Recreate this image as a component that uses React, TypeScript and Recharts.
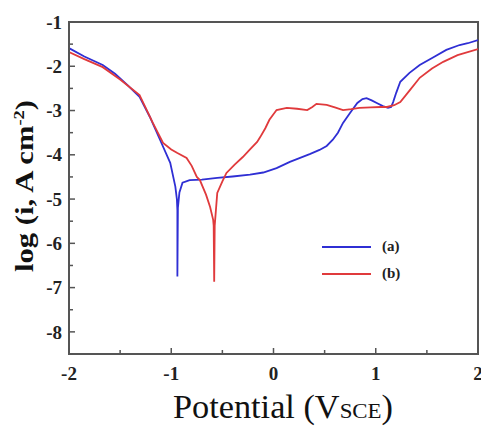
import { LineChart, Line, XAxis, YAxis, ReferenceArea } from "recharts";

// curve (a)
const aX = [
  -2.0, -1.85, -1.67, -1.55, -1.43, -1.31, -1.21, -1.11, -1.01, -0.96, -0.945, -0.94, -0.94, -0.935,
  -0.92, -0.89, -0.82, -0.7, -0.55, -0.4, -0.23, -0.1, 0.03, 0.16, 0.26, 0.36, 0.45, 0.52, 0.58,
  0.63, 0.68, 0.75, 0.82, 0.87, 0.91, 0.96, 1.01, 1.07, 1.12, 1.15, 1.17, 1.2, 1.24, 1.33, 1.43,
  1.56, 1.69, 1.82, 1.9, 2.0,
];
const aY = [
  -1.59, -1.78, -1.97, -2.17, -2.42, -2.69, -3.14, -3.66, -4.18, -4.72, -5.0, -5.25, -6.75, -5.2,
  -4.85, -4.63, -4.57, -4.56, -4.52, -4.49, -4.45, -4.4, -4.3, -4.16, -4.07, -3.98, -3.89, -3.8, -3.66,
  -3.5, -3.28, -3.05, -2.83, -2.74, -2.72, -2.77, -2.83, -2.9, -2.94, -2.92, -2.81, -2.6, -2.35, -2.15, -1.97,
  -1.8, -1.63, -1.52, -1.48, -1.41,
];

// curve (b)
const bX = [
  -2.0, -1.85, -1.67, -1.5, -1.31, -1.18, -1.08, -1.0, -0.94, -0.85, -0.8, -0.75, -0.72, -0.66, -0.62,
  -0.59, -0.585, -0.58, -0.575, -0.55, -0.5, -0.46, -0.38, -0.3, -0.23, -0.16, -0.13, -0.08, -0.04,
  0.03, 0.13, 0.23, 0.33, 0.38, 0.42, 0.52, 0.6, 0.68, 0.76, 0.84, 0.95, 1.05, 1.11, 1.18, 1.24,
  1.33, 1.43, 1.55, 1.66, 1.8, 2.0,
];
const bY = [
  -1.68, -1.84, -2.02, -2.3, -2.65, -3.28, -3.73, -3.88, -3.96, -4.07, -4.25, -4.5, -4.57, -4.9, -5.18,
  -5.47, -5.6, -6.87, -5.6, -4.86, -4.6, -4.41, -4.22, -4.05, -3.88, -3.71, -3.6, -3.4, -3.21,
  -2.99, -2.94, -2.96, -2.99, -2.92, -2.85, -2.87, -2.93, -2.99, -2.97, -2.94, -2.93, -2.92, -2.92, -2.88, -2.81,
  -2.55, -2.26, -2.05, -1.9, -1.75, -1.61,
];

const seriesNames = ["(a)", "(b)"];
const xTicks = [-2, -1.5, -1, -0.5, 0, 0.5, 1, 1.5, 2];
const yTicks = [-8.5, -8, -7.5, -7, -6.5, -6, -5.5, -5, -4.5, -4, -3.5, -3, -2.5, -2, -1.5, -1];

const seriesA = aX.map((x, i) => ({ x, y: aY[i] }));
const seriesB = bX.map((x, i) => ({ x, y: bY[i] }));

const BLUE = "#2f2fd4";
const RED = "#e03a3c";
const AXIS = "#555";
const FONT = "Liberation Serif, DejaVu Serif, serif";
const LEFT = 69;
const BOTTOM = 354;

const XTick = (props: any) => {
  const v = props.payload.value;
  const major = Number.isInteger(v);
  return (
    <g>
      <line x1={props.x} x2={props.x} y1={BOTTOM} y2={BOTTOM - (major ? 6 : 4)} stroke={AXIS} strokeWidth={1.5} />
      {major && (
        <text x={props.x} y={380} textAnchor="middle" style={{ fontFamily: FONT, fontWeight: 700, fontSize: 19 }} fill="#222">
          {v}
        </text>
      )}
    </g>
  );
};

const YTick = (props: any) => {
  const v = props.payload.value;
  const major = Number.isInteger(v);
  return (
    <g>
      <line x1={LEFT} x2={LEFT + (major ? 6 : 4)} y1={props.y} y2={props.y} stroke={AXIS} strokeWidth={1.5} />
      {major && (
        <text x={62} y={props.y} dy="0.35em" textAnchor="end" style={{ fontFamily: FONT, fontWeight: 700, fontSize: 19 }} fill="#222">
          {v}
        </text>
      )}
    </g>
  );
};

export default function App() {
  return (
    <div style={{ position: "absolute", left: 0, top: 0, width: 481, height: 426, background: "#fff" }}>
      <LineChart width={481} height={426} margin={{ top: 22, right: 3, left: 0, bottom: 0 }}>
        <XAxis
          dataKey="x"
          type="number"
          domain={[-2, 2]}
          ticks={xTicks}
          interval={0}
          height={72}
          allowDataOverflow
          tickLine={false}
          axisLine={{ stroke: AXIS, strokeWidth: 2 }}
          tick={<XTick />}
          label={{
            content: () => (
              <text
                x={283}
                y={418}
                textAnchor="middle"
                style={{ fontFamily: FONT, fontSize: 33 }}
                fill="#111"
                textLength={220}
                lengthAdjust="spacingAndGlyphs"
              >
                Potential (V<tspan style={{ fontSize: 22 }}>SCE</tspan>)
              </text>
            ),
          }}
        />
        <YAxis
          type="number"
          domain={[-8.5, -1]}
          ticks={yTicks}
          interval={0}
          width={69}
          allowDataOverflow
          tickLine={false}
          axisLine={{ stroke: AXIS, strokeWidth: 2 }}
          tick={<YTick />}
          label={{
            content: () => (
              <text
                x={0}
                y={0}
                transform="translate(33,186) rotate(-90)"
                textAnchor="middle"
                style={{ fontFamily: FONT, fontWeight: 700, fontSize: 25 }}
                fill="#111"
                textLength={172}
                lengthAdjust="spacingAndGlyphs"
              >
                log (i, A cm<tspan style={{ fontSize: 15 }} dy={-9}>-2</tspan><tspan dy={9}>)</tspan>
              </text>
            ),
          }}
        />
        <ReferenceArea x1={-2} x2={2} y1={-8.5} y2={-1} fill="none" stroke={AXIS} strokeWidth={2} />
        <Line data={seriesA} dataKey="y" name={seriesNames[0]} type="linear" stroke={BLUE} strokeWidth={1.8} dot={false} isAnimationActive={false} />
        <Line data={seriesB} dataKey="y" name={seriesNames[1]} type="linear" stroke={RED} strokeWidth={1.8} dot={false} isAnimationActive={false} />
      </LineChart>
      <div
        style={{ position: "absolute", left: 322, top: 233, fontFamily: FONT, fontWeight: 700, fontSize: 15, color: "#222" }}
      >
        {seriesNames.map((name, i) => (
          <div key={name} style={{ display: "flex", alignItems: "center", height: 27 }}>
            <div style={{ width: 49, height: 2, background: i === 0 ? BLUE : RED, marginRight: 11 }} />
            <span>{name}</span>
          </div>
        ))}
      </div>
    </div>
  );
}
